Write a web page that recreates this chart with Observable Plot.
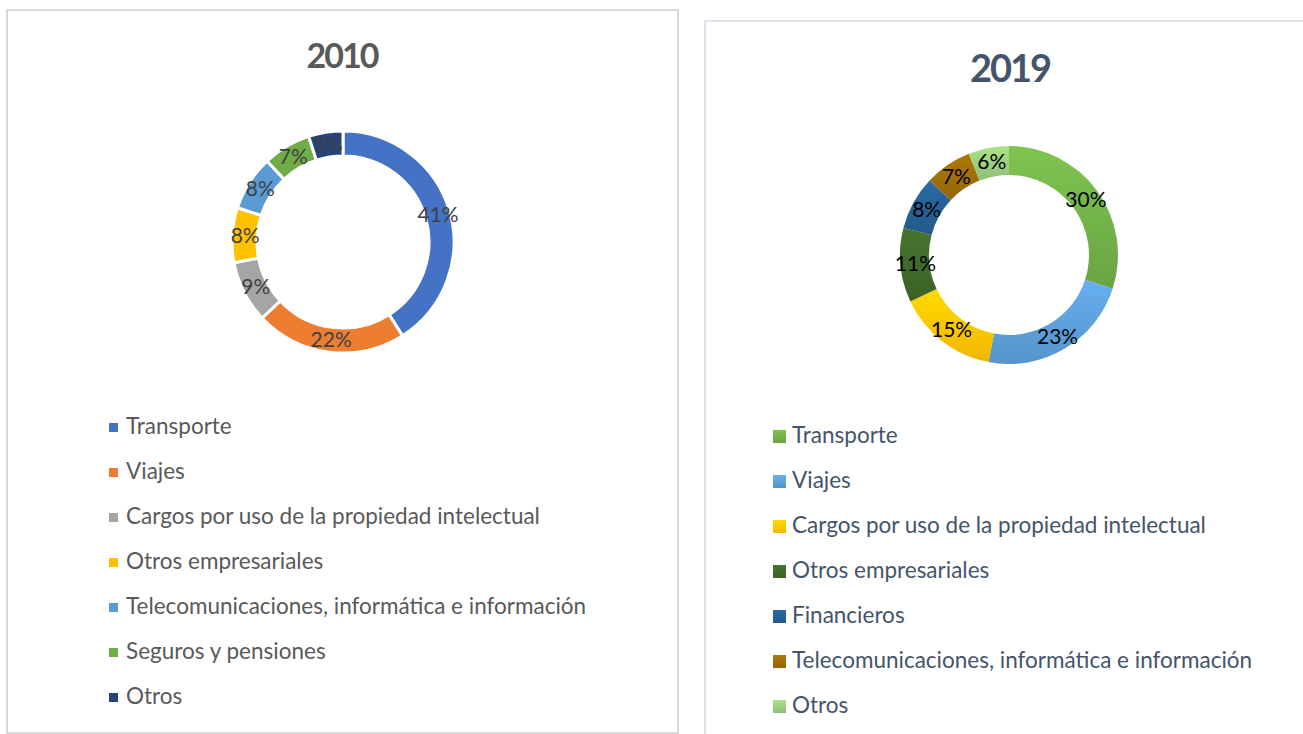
<!DOCTYPE html>
<html>
<head>
<meta charset="utf-8">
<script src="https://cdn.jsdelivr.net/npm/d3@7"></script>
<script src="https://cdn.jsdelivr.net/npm/@observablehq/plot@0.6"></script>
<style>
  html, body { margin: 0; padding: 0; background: #fff; }
  body { width: 1303px; height: 734px; overflow: hidden; position: relative; font-family: Lato, "Open Sans", sans-serif; }
  .panel { position: absolute; box-sizing: border-box; background: #fff; }
  #p1 { left: 6px; top: 9px; width: 673px; height: 725px; border: 2px solid #d9d9d9; }
  #p2 { left: 704px; top: 20px; width: 640px; height: 760px; border: 2px solid #dce2ea; }
  .title { position: absolute; width: 300px; text-align: center; font-weight: bold; line-height: 1; letter-spacing: -2px; white-space: nowrap; }
  .chart { position: absolute; }
  .row { position: absolute; white-space: nowrap; font-size: 22.5px; line-height: 28px; }
  .sw { position: absolute; }
</style>
</head>
<body>
<div class="panel" id="p1"></div>
<div class="panel" id="p2"></div>
<div id="root"></div>
<script>
// ---------- data ----------
const categories2010 = [
  "Transporte",
  "Viajes",
  "Cargos por uso de la propiedad intelectual",
  "Otros empresariales",
  "Telecomunicaciones, informática e información",
  "Seguros y pensiones",
  "Otros"
];
const values2010 = [41, 22, 9, 8, 8, 7, 5];
const colors2010 = ["#4472C4", "#ED7D31", "#A5A5A5", "#FFC000", "#5B9BD5", "#70AD47", "#264478"];

const categories2019 = [
  "Transporte",
  "Viajes",
  "Cargos por uso de la propiedad intelectual",
  "Otros empresariales",
  "Financieros",
  "Telecomunicaciones, informática e información",
  "Otros"
];
const values2019 = [30, 23, 15, 11, 8, 7, 6];
const colors2019 = ["#70AD47", "#5B9BD5", "#FFC000", "#3F6629", "#255E91", "#9A6B08", "#97C87A"];

const titles = ["2010", "2019"];

// ---------- helpers ----------
const root = document.getElementById("root");

function donut({categories, values, colors, id, R, r, gap, gradient, labelColor, half}) {
  const data = categories.map((c, i) => ({category: c, value: values[i]}));
  const arcs = d3.pie().value(d => d.value).sort(null)(data);
  const total = d3.sum(values);
  const rm = (R + r) / 2;
  const labels = arcs.map(a => {
    const ang = (a.startAngle + a.endAngle) / 2;
    return {
      category: a.data.category,
      label: Math.round(a.data.value / total * 100) + "%",
      x: rm * Math.sin(ang),
      y: rm * Math.cos(ang)
    };
  });

  const ringMark = (index, scales) => {
    const cx = scales.x(0), cy = scales.y(0);
    const k = scales.x(1) - scales.x(0);
    const g = d3.create("svg:g").attr("transform", `translate(${cx},${cy})`);
    if (gradient) {
      const defs = g.append("defs");
      colors.forEach((c, i) => {
        const lg = defs.append("linearGradient")
          .attr("id", `${id}-g${i}`)
          .attr("x1", 0).attr("y1", 0).attr("x2", 0).attr("y2", 1);
        lg.append("stop").attr("offset", "0%").attr("stop-color", d3.color(c).brighter(0.35).formatHex());
        lg.append("stop").attr("offset", "100%").attr("stop-color", d3.color(c).darker(0.15).formatHex());
      });
    }
    const arc = d3.arc().innerRadius(r * k).outerRadius(R * k);
    g.selectAll("path")
      .data(arcs)
      .join("path")
      .attr("d", arc)
      .attr("fill", (d, i) => gradient ? `url(#${id}-g${i})` : colors[i])
      .attr("stroke", gap ? "#fff" : "none")
      .attr("stroke-width", gap || 0)
      .attr("stroke-linejoin", "miter");
    return g.node();
  };

  return Plot.plot({
    width: 2 * half,
    height: 2 * half,
    margin: 0,
    x: {domain: [-half, half], axis: null},
    y: {domain: [-half, half], axis: null},
    style: {background: "transparent", overflow: "visible"},
    marks: [
      ringMark,
      Plot.text(labels, {
        x: "x", y: "y", text: "label",
        fill: labelColor,
        fontSize: 21,
        fontFamily: "Lato, 'Open Sans', sans-serif"
      })
    ]
  });
}

function place(el, left, top) {
  el.style.position = "absolute";
  el.style.left = left + "px";
  el.style.top = top + "px";
  root.appendChild(el);
}

function legend({categories, colors, x, y0, step, sw, textX, color, gradient}) {
  categories.forEach((c, i) => {
    const yc = y0 + i * step;
    const s = document.createElement("div");
    s.className = "sw";
    s.style.width = sw + "px";
    s.style.height = sw + "px";
    s.style.left = x + "px";
    s.style.top = (yc - sw / 2) + "px";
    s.style.background = gradient
      ? `linear-gradient(${d3.color(colors[i]).brighter(0.35).formatHex()}, ${d3.color(colors[i]).darker(0.15).formatHex()})`
      : colors[i];
    root.appendChild(s);
    const t = document.createElement("div");
    t.className = "row";
    t.textContent = c;
    t.style.left = textX + "px";
    t.style.top = (yc - 15) + "px";
    t.style.color = color;
    root.appendChild(t);
  });
}

function title(text, cx, top, size, color) {
  const d = document.createElement("div");
  d.className = "title";
  d.textContent = text;
  d.style.left = (cx - 150) + "px";
  d.style.top = top + "px";
  d.style.fontSize = size + "px";
  d.style.color = color;
  root.appendChild(d);
}

// ---------- 2010 ----------
title(titles[0], 342, 38, 34, "#595959");
const half = 150;
const c1 = donut({
  categories: categories2010, values: values2010, colors: colors2010, id: "d2010",
  R: 111, r: 86, gap: 3, gradient: false, labelColor: "#404040", half
});
place(c1, 342.5 - half, 242 - half);
legend({categories: categories2010, colors: colors2010, x: 109, y0: 427, step: 45, sw: 9, textX: 126, color: "#595959", gradient: false});

// ---------- 2019 ----------
title(titles[1], 1010, 48, 38, "#44546A");
const c2 = donut({
  categories: categories2019, values: values2019, colors: colors2019, id: "d2019",
  R: 109, r: 80, gap: 0, gradient: true, labelColor: "#000000", half
});
place(c2, 1009 - half, 254.5 - half);
legend({categories: categories2019, colors: colors2019, x: 773, y0: 436, step: 45, sw: 13, textX: 792, color: "#44546A", gradient: true});
</script>
</body>
</html>
